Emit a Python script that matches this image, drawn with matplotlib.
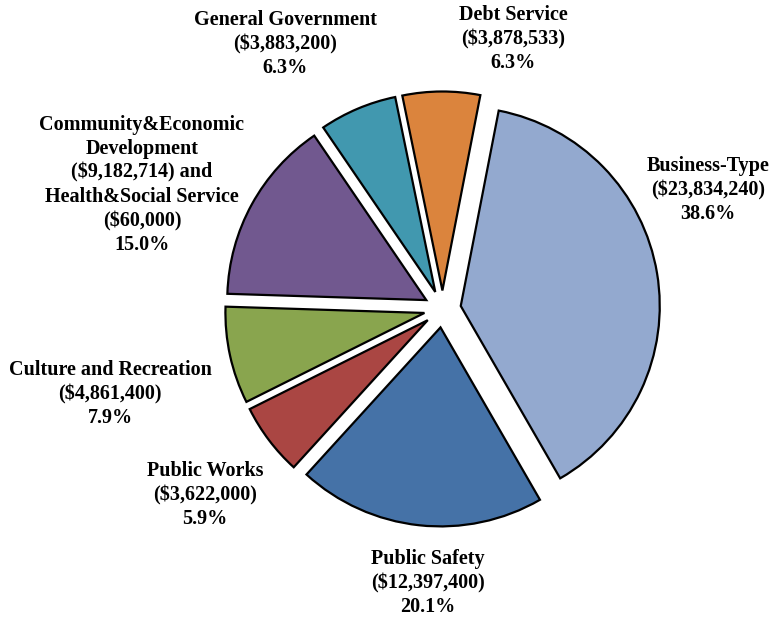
import matplotlib.pyplot as plt

# Expenditures by function
categories = [
    "Business-Type",
    "Public Safety",
    "Public Works",
    "Culture and Recreation",
    "Community&Economic Development",
    "General Government",
    "Debt Service",
]
community_dev = 9182714
health_social = 60000
values = [23834240, 12397400, 3622000, 4861400,
          community_dev + health_social, 3883200, 3878533]

colors = ["#93A9CF", "#4572A7", "#AA4643", "#89A54E",
          "#71588F", "#4198AF", "#DB843D"]

# label block centres in pixel coordinates (x, y from top)
label_pos = [(708, 190), (428, 583), (205, 495), (110, 394),
             (142, 185), (285, 44), (513, 39)]

W, H = 771, 618
total = sum(values)


def money(v):
    return f"(${v:,.0f})"


texts = []
for name, v in zip(categories, values):
    pct = f"{100 * v / total:.1f}%"
    if name.startswith("Community"):
        txt = ("Community&Economic\nDevelopment\n"
               f"{money(community_dev)} and\nHealth&Social Service\n"
               f"{money(health_social)}\n{pct}")
    else:
        txt = f"{name}\n{money(v)}\n{pct}"
    texts.append(txt)

fig = plt.figure(figsize=(W / 100, H / 100), dpi=100)
ax = fig.add_axes([0, 0, 1, 1])

ax.pie(values, colors=colors, radius=199, center=(442.5, H - 309),
       explode=[18.5] * len(values), startangle=79, counterclock=False,
       wedgeprops=dict(edgecolor="black", linewidth=1.6))

for txt, (x, y) in zip(texts, label_pos):
    ax.text(x, H - y, txt, ha="center", va="center", multialignment="center",
            fontsize=14.5, fontweight="bold", family="Liberation Serif",
            linespacing=1.27)

ax.set_xlim(0, W)
ax.set_ylim(0, H)
ax.set_aspect("equal")
ax.axis("off")

fig.savefig("out.png", dpi=100)
